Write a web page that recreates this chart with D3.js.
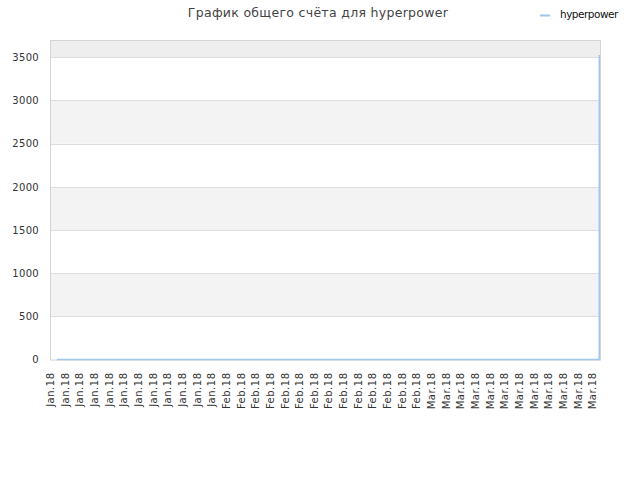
<!DOCTYPE html>
<html>
<head>
<meta charset="utf-8">
<script src="https://cdn.jsdelivr.net/npm/d3@7"></script>
<style>
  html, body { margin: 0; padding: 0; background: #ffffff; }
  svg { display: block; }
</style>
</head>
<body>
<svg id="chart" width="640" height="480"></svg>
<script>
// ---- data ----
const categories = [
  "Jan.18","Jan.18","Jan.18","Jan.18","Jan.18","Jan.18","Jan.18","Jan.18","Jan.18","Jan.18","Jan.18","Jan.18",
  "Feb.18","Feb.18","Feb.18","Feb.18","Feb.18","Feb.18","Feb.18","Feb.18","Feb.18","Feb.18","Feb.18","Feb.18","Feb.18","Feb.18",
  "Mar.18","Mar.18","Mar.18","Mar.18","Mar.18","Mar.18","Mar.18","Mar.18","Mar.18","Mar.18","Mar.18","Mar.18"
];
const scores = [
  0,0,0,0,0,0,0,0,0,0,0,0,
  0,0,0,0,0,0,0,0,0,0,0,0,0,0,
  0,0,0,0,0,0,0,0,0,0,0,3525
];
const yTicks = [0, 500, 1000, 1500, 2000, 2500, 3000, 3500];
const yMax = 3700;
const seriesName = "hyperpower";
const chartTitle = "График общего счёта для hyperpower";

// ---- layout ----
const svg = d3.select("#chart");
const plot = { left: 50, right: 600, top: 40, bottom: 359.5 };

const x = d3.scalePoint()
  .domain(d3.range(categories.length))
  .range([57, 599.3]);
const y = d3.scaleLinear()
  .domain([0, yMax])
  .range([plot.bottom, plot.top]);

// background bands
const bandEdges = yTicks.concat([yMax]);
const bands = [];
for (let i = 0; i < bandEdges.length - 1; i++) {
  bands.push({ lo: bandEdges[i], hi: bandEdges[i + 1], i });
}
svg.append("g").selectAll("rect").data(bands).join("rect")
  .attr("x", plot.left)
  .attr("width", plot.right - plot.left)
  .attr("y", d => y(d.hi))
  .attr("height", d => y(d.lo) - y(d.hi))
  .attr("fill", d => d.i === bands.length - 1 ? "#eeeeee" : (d.i % 2 === 1 ? "#f3f3f3" : "#ffffff"));

// grid lines
svg.append("g").selectAll("line").data(yTicks.filter(v => v > 0)).join("line")
  .attr("x1", plot.left).attr("x2", plot.right)
  .attr("y1", d => Math.round(y(d)) + 0.5).attr("y2", d => Math.round(y(d)) + 0.5)
  .attr("stroke", "#dddddd").attr("stroke-width", 1);

// plot frame
svg.append("rect")
  .attr("x", plot.left + 0.5).attr("y", plot.top + 0.5)
  .attr("width", plot.right - plot.left).attr("height", plot.bottom - plot.top)
  .attr("fill", "none").attr("stroke", "#d4d4d4").attr("stroke-width", 1);

// y axis labels
const yAxis = d3.axisLeft(y).tickValues(yTicks).tickSize(0).tickPadding(11).tickFormat(d3.format("d"));
const gy = svg.append("g").attr("transform", `translate(${plot.left},0)`).call(yAxis);
gy.select(".domain").remove();
gy.selectAll("text")
  .attr("font-family", "DejaVu Sans, sans-serif")
  .attr("font-size", 10)
  .attr("letter-spacing", 0.3)
  .attr("fill", "#333333");

// x axis labels
const xAxis = d3.axisBottom(x).tickSize(0).tickFormat(i => categories[i]);
const gx = svg.append("g").attr("transform", `translate(0,${plot.bottom})`).call(xAxis);
gx.select(".domain").remove();
gx.selectAll("text")
  .attr("font-family", "DejaVu Sans, sans-serif")
  .attr("font-size", 10)
  .attr("letter-spacing", 0.5)
  .attr("fill", "#333333")
  .attr("text-anchor", "end")
  .attr("transform", "translate(-7,13) rotate(-90)")
  .attr("x", 0)
  .attr("y", 0)
  .attr("dy", "0.35em");

// line
const line = d3.line()
  .x((d, i) => x(i))
  .y(d => y(d))
  .curve(d3.curveStepAfter);
svg.append("path")
  .datum(scores)
  .attr("d", line)
  .attr("fill", "none")
  .attr("stroke", "#9fc6ef")
  .attr("stroke-width", 1.5);

// title
svg.append("text")
  .attr("x", 318).attr("y", 17)
  .attr("text-anchor", "middle")
  .attr("font-family", "DejaVu Sans, sans-serif")
  .attr("font-size", 12.5)
  .attr("letter-spacing", 0.3)
  .attr("fill", "#444444")
  .text(chartTitle);

// legend
svg.append("line")
  .attr("x1", 540).attr("x2", 550)
  .attr("y1", 15.5).attr("y2", 15.5)
  .attr("stroke", "#9fc6ef").attr("stroke-width", 2);
svg.append("text")
  .attr("x", 560).attr("y", 18)
  .attr("font-family", "DejaVu Sans, sans-serif")
  .attr("font-size", 10.5)
  .attr("letter-spacing", -0.5)
  .attr("fill", "#111111")
  .text(seriesName);
</script>
</body>
</html>
